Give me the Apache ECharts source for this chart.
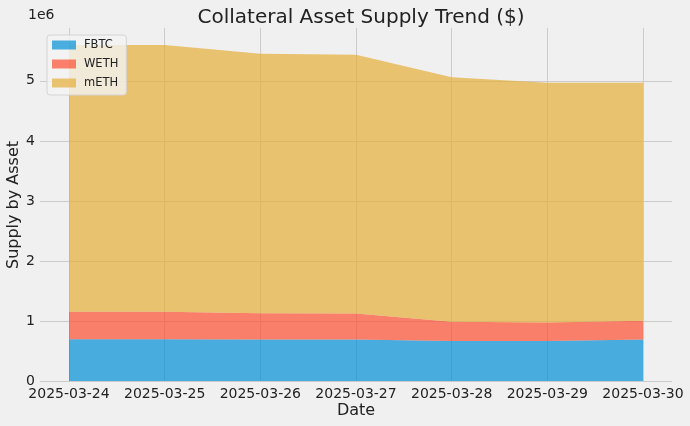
<!DOCTYPE html>
<html>
<head>
<meta charset="utf-8">
<script src="https://cdn.jsdelivr.net/npm/echarts@6/dist/echarts.min.js"></script>
<style>
html,body{margin:0;padding:0;background:#f0f0f0;}
#chart{width:690px;height:426px;}
</style>
</head>
<body>
<div id="chart"></div>
<script>
const dates = ['2025-03-24','2025-03-25','2025-03-26','2025-03-27','2025-03-28','2025-03-29','2025-03-30'];
const fbtc = [695000, 695000, 690000, 690000, 667000, 667000, 690000];
const weth = [460000, 460000, 438000, 435000, 321000, 307000, 313000];
const meth = [4440000, 4440000, 4322000, 4308000, 4072000, 3996000, 3967000];
const yTicks = [0, 1, 2, 3, 4, 5];
const seriesNames = ['FBTC', 'WETH', 'mETH'];
const colors = ['#008fd5', '#fc4f30', '#e5ae38'];

const FONT = 'DejaVu Sans';
const YMAX = 5.88e6;
const chart = echarts.init(document.getElementById('chart'), null, {renderer: 'canvas'});

const seriesData = [fbtc, weth, meth];
const option = {
  backgroundColor: '#f0f0f0',
  animation: false,
  textStyle: {fontFamily: FONT},
  title: {
    text: 'Collateral Asset Supply Trend ($)',
    left: 356, top: 3, textAlign: 'center',
    textStyle: {fontFamily: FONT, fontSize: 20, fontWeight: 'normal', color: '#222222'}
  },
  legend: {
    data: seriesNames,
    orient: 'vertical',
    left: 47, top: 35,
    itemWidth: 24, itemHeight: 9, itemGap: 7,
    padding: [4, 8, 6, 5],
    icon: 'rect',
    backgroundColor: 'rgba(244,244,244,0.8)',
    borderColor: '#d4d4d4', borderWidth: 1, borderRadius: 3,
    textStyle: {fontFamily: FONT, fontSize: 11.5, color: '#222222', padding: [0, 0, 0, 3]}
  },
  grid: [
    {left: 40, right: 18, top: 28, bottom: 45},
    {left: 69, right: 47, top: 28, bottom: 45}
  ],
  xAxis: [
    {gridIndex: 0, type: 'value', min: 0, max: 1, show: false},
    {gridIndex: 1, type: 'category', data: dates, boundaryGap: false,
     axisLine: {show: false}, axisTick: {show: false},
     axisLabel: {interval: 0, fontFamily: FONT, fontSize: 14, color: '#222222', margin: 6, hideOverlap: false},
     splitLine: {show: true, interval: 0, lineStyle: {color: '#cbcbcb', width: 1}}}
  ],
  yAxis: [
    {gridIndex: 0, type: 'value', min: 0, max: YMAX, interval: 1e6,
     axisLine: {show: false}, axisTick: {show: false},
     axisLabel: {fontFamily: FONT, fontSize: 14, color: '#222222', margin: 5, showMaxLabel: false,
       formatter: v => (yTicks.indexOf(v / 1e6) >= 0 ? String(v / 1e6) : '')},
     splitLine: {show: true, showMaxLine: false, lineStyle: {color: '#cbcbcb', width: 1}}},
    {gridIndex: 1, type: 'value', min: 0, max: YMAX, show: false, splitLine: {show: false}}
  ],
  series: seriesNames.map((name, i) => ({
    name: name,
    type: 'line',
    xAxisIndex: 1, yAxisIndex: 1,
    stack: 'total',
    data: seriesData[i],
    symbol: 'none',
    lineStyle: {width: 0},
    itemStyle: {color: colors[i], opacity: 0.7},
    areaStyle: {color: colors[i], opacity: 0.7}
  })),
  graphic: [
    {type: 'text', left: 28, top: 8, style: {text: '1e6', font: '14px "DejaVu Sans"', fill: '#222222'}},
    {type: 'text', x: 356, y: 411, style: {text: 'Date', font: '16px "DejaVu Sans"', fill: '#222222', textAlign: 'center', textVerticalAlign: 'middle'}},
    {type: 'text', x: 14, y: 205, rotation: Math.PI / 2, style: {text: 'Supply by Asset', font: '16px "DejaVu Sans"', fill: '#222222', textAlign: 'center', textVerticalAlign: 'middle'}}
  ]
};
chart.setOption(option);
</script>
</body>
</html>
